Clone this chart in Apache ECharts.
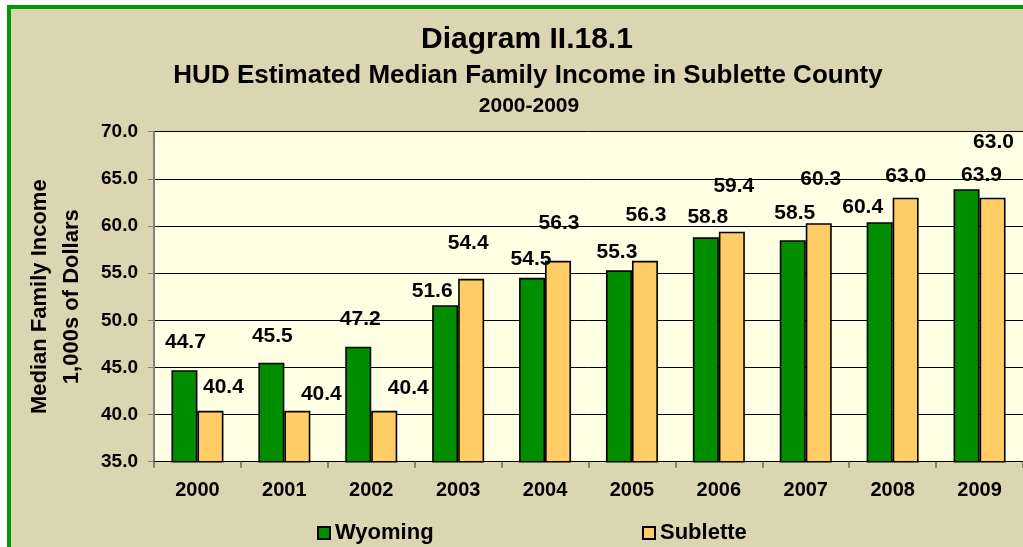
<!DOCTYPE html>
<html>
<head>
<meta charset="utf-8">
<script src="https://cdn.jsdelivr.net/npm/echarts@6/dist/echarts.min.js"></script>
<style>
html,body{margin:0;padding:0;background:#fff;}
#c{width:1023px;height:547px;}
</style>
</head>
<body>
<div id="c"></div>
<script>
const categories = ['2000','2001','2002','2003','2004','2005','2006','2007','2008','2009'];
const wyoming  = [44.7, 45.5, 47.2, 51.6, 54.5, 55.3, 58.8, 58.5, 60.4, 63.9];
const sublette = [40.4, 40.4, 40.4, 54.4, 56.3, 56.3, 59.4, 60.3, 63.0, 63.0];
const yMin = 35, yMax = 70, yStep = 5;
const titleText = 'Diagram II.18.1';
const subtitleText = 'HUD Estimated Median Family Income in Sublette County';
const periodText = '2000-2009';
const yName = 'Median Family Income\n1,000s of Dollars';

// label placement (hand-placed labels in the original), [dx, dy] from bar top
const wyLabelPos = [[1,-28],[1,-26],[2,-27],[-13,-14],[-1,-19],[-2,-18],[2,-20],[2,-27],[-17,-15],[15,-14]];
const suLabelPos = [[13,-24],[24,-17],[24,-23],[-3,-36],[1,-38],[1,-46],[2,-45],[2,-44],[0,-21],[1,-55]];

const FONT = '"Liberation Sans", Arial, sans-serif';
const GREEN = '#008E00';
const ORANGE = '#FFCC66';

function build(values, pos){
  return values.map((v,i)=>({value:v, label:{offset:pos[i]}}));
}

const chart = echarts.init(document.getElementById('c'), null, {renderer:'canvas'});
const labelCommon = {
  show:true, position:'top', distance:0, verticalAlign:'middle',
  fontFamily:FONT, fontWeight:'bold', fontSize:21, color:'#000',
  formatter:p=>Number(p.value).toFixed(1)
};
chart.setOption({
  backgroundColor:'#ffffff',
  animation:false,
  graphic:[{
    type:'rect', z:-10, silent:true,
    shape:{x:9, y:7, width:1100, height:600},
    style:{fill:'#DCD5B1', stroke:'#009A00', lineWidth:4}
  }],
  title:[
    {text:titleText, left:522, top:20, textAlign:'center',
     textStyle:{fontFamily:FONT, fontWeight:'bold', fontSize:30, color:'#000'}},
    {text:subtitleText, left:523, top:58, textAlign:'center',
     textStyle:{fontFamily:FONT, fontWeight:'bold', fontSize:26, color:'#000'}},
    {text:periodText, left:524, top:91, textAlign:'center',
     textStyle:{fontFamily:FONT, fontWeight:'bold', fontSize:21, color:'#000'}}
  ],
  legend:[
    {data:['Wyoming'], left:312, top:517, icon:'rect', itemWidth:12, itemHeight:12, itemGap:0,
     textStyle:{fontFamily:FONT, fontWeight:'bold', fontSize:22, color:'#000'}},
    {data:['Sublette'], left:637, top:517, icon:'rect', itemWidth:12, itemHeight:12, itemGap:0,
     textStyle:{fontFamily:FONT, fontWeight:'bold', fontSize:22, color:'#000'}}
  ],
  grid:{left:154, top:131.7, width:875, height:330, show:true, backgroundColor:'#FFFFE4', borderWidth:0},
  xAxis:{
    type:'category', data:categories, boundaryGap:true,
    axisLine:{lineStyle:{color:'#000', width:1}},
    axisTick:{show:true, length:6, lineStyle:{color:'#808080', width:2}},
    axisLabel:{fontFamily:FONT, fontWeight:'bold', fontSize:20, color:'#000', margin:19}
  },
  yAxis:{
    type:'value', min:yMin, max:yMax, interval:yStep,
    name:yName, nameLocation:'middle', nameRotate:90, nameGap:66,
    nameTextStyle:{fontFamily:FONT, fontWeight:'bold', fontSize:22, color:'#000', lineHeight:32},
    axisLine:{show:true, lineStyle:{color:'#808080', width:2}},
    axisTick:{show:true, length:6, lineStyle:{color:'#808080', width:1}},
    axisLabel:{fontFamily:FONT, fontWeight:'bold', fontSize:19, color:'#000', margin:16,
      formatter:v=>Number(v).toFixed(1)},
    splitLine:{show:true, lineStyle:{color:'#000', width:1}}
  },
  series:[
    {name:'Wyoming', type:'bar', data:build(wyoming, wyLabelPos), barWidth:26, barGap:'0%',
     itemStyle:{color:GREEN, borderColor:'#000', borderWidth:1.6}, label:labelCommon},
    {name:'Sublette', type:'bar', data:build(sublette, suLabelPos), barWidth:26, barGap:'0%',
     itemStyle:{color:ORANGE, borderColor:'#000', borderWidth:1.6}, label:labelCommon}
  ]
});
</script>
</body>
</html>
